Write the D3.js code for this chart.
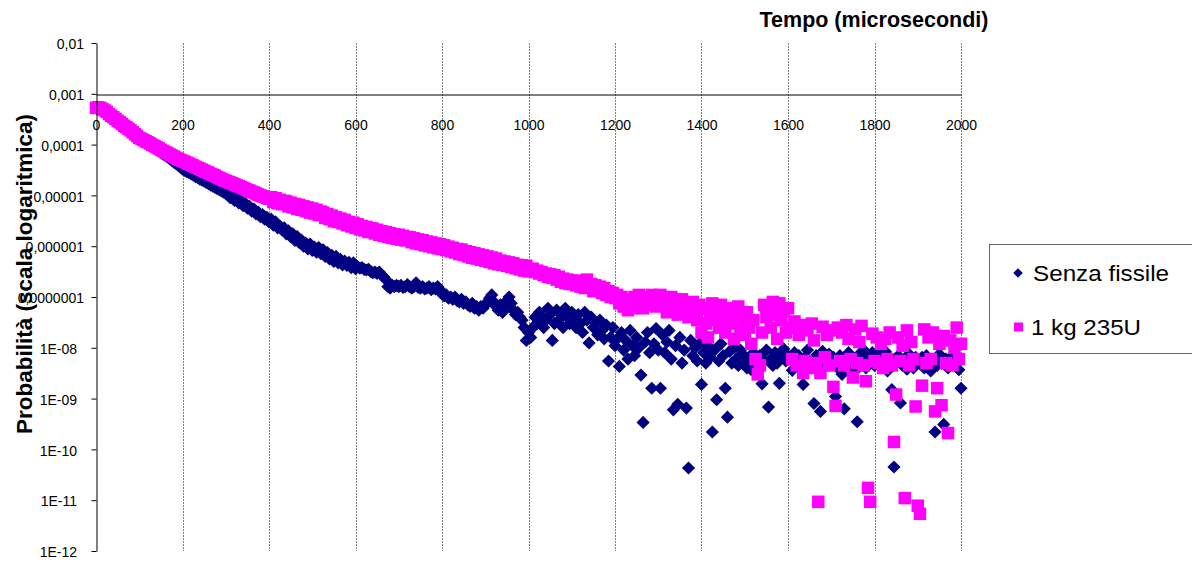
<!DOCTYPE html>
<html>
<head>
<meta charset="utf-8">
<script src="https://cdn.jsdelivr.net/npm/d3@7"></script>
<style>
  body { margin: 0; background: #fff; }
  svg { display: block; font-family: "Liberation Sans", Arial, sans-serif; }
</style>
</head>
<body>
<svg id="chart" width="1192" height="563"></svg>
<script>
// Sampling interval of both series, in microseconds (t = index * timeStep)
const timeStep = 5;

// Probability without fissile material, t = 0 … 2000 µs
const senzaFissile = [
  5.3e-4,
  5.4e-4, 5.3e-4, 5.0e-4, 4.7e-4, 4.4e-4, 4.0e-4, 3.7e-4, 3.45e-4, 3.2e-4, 2.95e-4, 2.75e-4, 2.55e-4, 2.35e-4, 2.2e-4, 2.05e-4, 1.9e-4, 1.75e-4, 1.6e-4, 1.48e-4, 1.36e-4,
  1.28e-4, 1.21e-4, 1.14e-4, 1.07e-4, 1.0e-4, 9.4e-5, 8.8e-5, 8.2e-5, 7.6e-5, 7.0e-5, 6.5e-5, 6.1e-5, 5.7e-5, 5.3e-5, 4.9e-5, 4.5e-5, 4.2e-5, 3.9e-5, 3.6e-5, 3.3e-5,
  3.1e-5, 2.95e-5, 2.8e-5, 2.65e-5, 2.5e-5, 2.35e-5, 2.25e-5, 2.1e-5, 2.0e-5, 1.9e-5, 1.8e-5, 1.7e-5, 1.6e-5, 1.52e-5, 1.44e-5, 1.36e-5, 1.3e-5, 1.22e-5, 1.16e-5, 1.1e-5,
  1.1e-5, 9.0e-6, 1.0e-5, 8.0e-6, 9.0e-6, 7.1e-6, 7.9e-6, 6.3e-6, 7.0e-6, 5.6e-6, 6.1e-6, 4.9e-6, 5.4e-6, 4.3e-6, 4.7e-6, 3.8e-6, 4.2e-6, 3.4e-6, 3.7e-6, 3.0e-6,
  3.4e-6, 2.6e-6, 3.0e-6, 2.3e-6, 2.5e-6, 2.1e-6, 2.3e-6, 1.75e-6, 2.0e-6, 1.55e-6, 1.75e-6, 1.3e-6, 1.55e-6, 1.18e-6, 1.32e-6, 1.0e-6, 1.15e-6, 8.8e-7, 1.1e-6, 8.3e-7,
  9.6e-7, 7.6e-7, 9.4e-7, 7.1e-7, 8.5e-7, 6.3e-7, 7.5e-7, 5.6e-7, 6.6e-7, 5.0e-7, 6.3e-7, 4.7e-7, 5.5e-7, 4.3e-7, 5.1e-7, 4.2e-7, 4.8e-7, 3.8e-7, 4.7e-7, 3.6e-7,
  3.9e-7, 3.7e-7, 3.8e-7, 3.5e-7, 3.4e-7, 3.5e-7, 3.2e-7, 3.0e-7, 3.1e-7, 2.9e-7, 3.1e-7, 2.7e-7, 2.5e-7, 2.2e-7, 1.6e-7, 1.5e-7, 1.7e-7, 1.6e-7, 1.7e-7, 1.6e-7,
  1.7e-7, 1.55e-7, 1.6e-7, 1.75e-7, 1.6e-7, 1.5e-7, 1.6e-7, 1.9e-7, 1.55e-7, 1.5e-7, 1.6e-7, 1.45e-7, 1.5e-7, 1.6e-7, 1.4e-7, 1.5e-7, 1.45e-7, 1.6e-7, 1.4e-7, 1.15e-7,
  1.05e-7, 1.1e-7, 9.5e-8, 1.0e-7, 9.0e-8, 1.0e-7, 8.5e-8, 8.0e-8, 9.0e-8, 7.5e-8, 8.0e-8, 7.0e-8, 6.5e-8, 7.5e-8, 6.0e-8, 6.5e-8, 5.5e-8, 6.5e-8, 6.0e-8, 7.0e-8,
  8.0e-8, 9.5e-8, 1.1e-7, 8.0e-8, 6.5e-8, 5.5e-8, 7.0e-8, 5.0e-8, 6.5e-8, 8.5e-8, 1.0e-7, 7.5e-8, 5.5e-8, 4.5e-8, 5.0e-8, 4.0e-8, 3.5e-8, 2.5e-8, 1.4e-8, 2.0e-8,
  1.6e-8, 2.5e-8, 4.0e-8, 3.0e-8, 5.0e-8, 4.0e-8, 2.5e-8, 3.5e-8, 6.0e-8, 4.5e-8, 1.4e-8, 3.0e-8, 5.5e-8, 3.5e-8, 4.5e-8, 2.5e-8, 6.0e-8, 4.0e-8, 3.0e-8, 5.0e-8,
  4.0e-8, 2.5e-8, 4.5e-8, 3.0e-8, 2.0e-8, 5.0e-8, 3.5e-8, 1.25e-8, 4.0e-8, 2.5e-8, 3.0e-8, 1.8e-8, 3.5e-8, 2.2e-8, 1.5e-8, 2.8e-8, 5.5e-9, 1.6e-8, 2.5e-8, 1.1e-8,
  1.5e-8, 4.3e-9, 2.0e-8, 9.0e-9, 1.4e-8, 6.0e-9, 2.2e-8, 1.1e-8, 7.0e-9, 1.6e-8, 1.0e-8, 2.9e-9, 3.4e-10, 1.3e-8, 2.0e-8, 8.0e-9, 1.6e-9, 1.2e-8, 2.4e-8, 9.0e-9,
  1.6e-9, 1.8e-8, 8.0e-9, 1.3e-8, 2.2e-8, 6.0e-9, 6.0e-10, 1.1e-8, 7.7e-10, 1.6e-8, 5.0e-9, 9.0e-9, 6.5e-10, 4.3e-11, 1.4e-8, 7.0e-9, 1.0e-8, 5.5e-9, 1.2e-8, 1.9e-9,
  8.0e-9, 5.0e-9, 1.1e-8, 6.5e-9, 2.2e-10, 9.0e-9, 9.5e-10, 5.5e-9, 1.2e-8, 7.0e-9, 1.6e-9, 4.3e-10, 8.5e-9, 5.0e-9, 1.0e-8, 6.0e-9, 4.5e-9, 9.0e-9, 7.5e-9, 5.5e-9,
  4.0e-9, 6.5e-9, 3.7e-9, 8.0e-9, 5.0e-9, 3.5e-9, 7.0e-9, 1.95e-9, 5.5e-9, 9.0e-9, 6.8e-10, 6.0e-9, 4.5e-9, 8.0e-9, 5.0e-9, 2.0e-9, 6.5e-9, 9.5e-9, 5.5e-9, 7.0e-9,
  6.0e-9, 3.6e-9, 8.0e-9, 5.0e-9, 7.0e-9, 4.5e-9, 1.9e-9, 6.5e-9, 9.0e-9, 5.5e-9, 4.0e-9, 8.0e-10, 7.0e-9, 5.0e-9, 5.6e-10, 8.5e-9, 6.0e-9, 4.5e-9, 7.5e-9, 5.0e-9,
  6.5e-9, 1.1e-9, 4.0e-9, 7.0e-9, 3.0e-9, 6.3e-10, 5.5e-9, 8.0e-9, 4.5e-9, 6.0e-9, 3.5e-9, 3.5e-10, 7.5e-9, 5.0e-9, 9.0e-9, 4.0e-9, 6.5e-9, 5.5e-9, 8.0e-9, 4.5e-9,
  6.0e-9, 7.5e-9, 4.0e-9, 5.5e-9, 8.5e-9, 3.5e-9, 6.5e-9, 1.5e-9, 4.5e-11, 5.0e-9, 7.0e-9, 8.2e-10, 4.5e-9, 6.0e-9, 3.8e-9, 7.5e-9, 5.0e-9, 4.0e-9, 6.5e-9, 5.5e-9,
  5.0e-9, 6.5e-9, 4.0e-9, 7.0e-9, 5.5e-9, 3.5e-9, 6.0e-9, 2.2e-10, 4.5e-9, 7.5e-9, 5.0e-9, 3.1e-10, 6.0e-9, 4.0e-9, 5.5e-9, 7.0e-9, 4.5e-9, 6.0e-9, 3.7e-9, 1.6e-9
];

// Probability with 1 kg of U-235, t = 0 … 2000 µs
const unKg235U = [
  5.3e-4,
  5.4e-4, 5.3e-4, 5.0e-4, 4.7e-4, 4.4e-4, 4.0e-4, 3.7e-4, 3.45e-4, 3.2e-4, 2.95e-4, 2.75e-4, 2.55e-4, 2.35e-4, 2.2e-4, 2.05e-4, 1.9e-4, 1.75e-4, 1.6e-4, 1.48e-4, 1.36e-4,
  1.29e-4, 1.23e-4, 1.16e-4, 1.11e-4, 1.05e-4, 9.9e-5, 9.4e-5, 8.9e-5, 8.4e-5, 7.9e-5, 7.5e-5, 7.1e-5, 6.8e-5, 6.4e-5, 6.1e-5, 5.8e-5, 5.5e-5, 5.2e-5, 5.0e-5, 4.8e-5,
  4.6e-5, 4.4e-5, 4.2e-5, 4.0e-5, 3.85e-5, 3.65e-5, 3.5e-5, 3.35e-5, 3.2e-5, 3.05e-5, 2.9e-5, 2.8e-5, 2.65e-5, 2.55e-5, 2.45e-5, 2.3e-5, 2.2e-5, 2.1e-5, 2.0e-5, 1.94e-5,
  1.86e-5, 1.8e-5, 1.72e-5, 1.65e-5, 1.58e-5, 1.52e-5, 1.46e-5, 1.4e-5, 1.34e-5, 1.28e-5, 1.24e-5, 1.18e-5, 1.14e-5, 1.09e-5, 1.04e-5, 1.0e-5, 9.6e-6, 9.3e-6, 8.9e-6, 8.6e-6,
  9.2e-6, 7.4e-6, 8.8e-6, 7.0e-6, 8.2e-6, 6.7e-6, 7.8e-6, 7.6e-6, 6.1e-6, 7.2e-6, 5.8e-6, 6.8e-6, 5.4e-6, 6.5e-6, 5.2e-6, 6.1e-6, 4.9e-6, 5.8e-6, 4.6e-6, 5.5e-6,
  4.4e-6, 5.2e-6, 4.1e-6, 4.8e-6, 4.6e-6, 3.6e-6, 4.3e-6, 3.4e-6, 4.0e-6, 3.1e-6, 3.7e-6, 3.0e-6, 3.5e-6, 2.8e-6, 3.3e-6, 2.6e-6, 3.0e-6, 2.45e-6, 2.9e-6, 2.3e-6,
  2.7e-6, 2.15e-6, 2.5e-6, 2.05e-6, 2.4e-6, 1.9e-6, 2.25e-6, 2.2e-6, 1.78e-6, 2.1e-6, 1.68e-6, 1.98e-6, 1.6e-6, 1.9e-6, 1.52e-6, 1.8e-6, 1.45e-6, 1.72e-6, 1.4e-6, 1.68e-6,
  1.35e-6, 1.6e-6, 1.3e-6, 1.52e-6, 1.5e-6, 1.2e-6, 1.43e-6, 1.14e-6, 1.36e-6, 1.1e-6, 1.31e-6, 1.04e-6, 1.24e-6, 1.0e-6, 1.19e-6, 9.5e-7, 1.13e-6, 9.1e-7, 1.09e-6, 8.8e-7,
  1.04e-6, 8.4e-7, 9.8e-7, 7.9e-7, 9.3e-7, 7.5e-7, 8.8e-7, 7.0e-7, 8.6e-7, 6.7e-7, 8.0e-7, 6.3e-7, 7.6e-7, 5.9e-7, 7.3e-7, 5.7e-7, 6.9e-7, 5.4e-7, 6.6e-7, 5.2e-7,
  6.3e-7, 4.9e-7, 6.0e-7, 4.6e-7, 5.7e-7, 4.4e-7, 5.2e-7, 4.3e-7, 5.0e-7, 4.1e-7, 4.8e-7, 3.9e-7, 4.6e-7, 3.7e-7, 4.3e-7, 3.5e-7, 4.2e-7, 3.3e-7, 4.1e-7, 3.2e-7,
  3.4e-7, 3.6e-7, 3.1e-7, 3.3e-7, 2.9e-7, 3.1e-7, 2.7e-7, 2.9e-7, 2.5e-7, 2.8e-7, 2.4e-7, 2.7e-7, 2.2e-7, 2.5e-7, 2.0e-7, 2.3e-7, 1.9e-7, 2.2e-7, 1.8e-7, 2.1e-7,
  2.0e-7, 1.7e-7, 2.1e-7, 1.6e-7, 1.9e-7, 1.5e-7, 2.2e-7, 1.6e-7, 1.8e-7, 1.3e-7, 1.7e-7, 1.4e-7, 1.6e-7, 1.2e-7, 1.5e-7, 1.1e-7, 1.3e-7, 1.0e-7, 1.2e-7, 9.5e-8,
  1.1e-7, 7.5e-8, 1.0e-7, 6.5e-8, 9.0e-8, 5.5e-8, 8.5e-8, 6.0e-8, 1.0e-7, 7.0e-8, 1.1e-7, 8.0e-8, 6.0e-8, 9.0e-8, 1.0e-7, 7.0e-8, 1.1e-7, 8.5e-8, 6.5e-8, 9.5e-8,
  1.1e-7, 7.0e-8, 9.0e-8, 5.0e-8, 8.0e-8, 1.0e-7, 6.0e-8, 8.5e-8, 4.5e-8, 7.0e-8, 9.0e-8, 5.5e-8, 7.5e-8, 4.0e-8, 6.5e-8, 8.0e-8, 5.0e-8, 3.5e-8, 7.0e-8, 2.0e-8,
  6.0e-8, 3.0e-8, 1.6e-8, 5.0e-8, 7.5e-8, 3.5e-8, 5.5e-8, 2.5e-8, 7.0e-8, 4.0e-8, 2.0e-8, 6.0e-8, 3.0e-8, 5.0e-8, 1.5e-8, 4.5e-8, 6.5e-8, 2.5e-8, 4.0e-8, 1.8e-8,
  5.0e-8, 2.5e-8, 1.2e-8, 3.5e-8, 6.0e-9, 3.0e-9, 4.5e-9, 2.0e-8, 7.0e-8, 4.0e-8, 6.5e-8, 2.5e-8, 8.0e-8, 4.5e-8, 1.5e-8, 7.5e-8, 3.5e-8, 5.5e-8, 2.0e-8, 6.0e-8,
  2.5e-8, 6.0e-9, 3.3e-8, 4.5e-9, 1.8e-8, 2.8e-8, 3.2e-9, 5.5e-9, 2.2e-8, 4.0e-9, 3.0e-8, 1.4e-8, 5.0e-9, 9.3e-12, 3.2e-9, 2.6e-8, 6.5e-9, 1.8e-8, 4.5e-9, 2.2e-8,
  1.7e-9, 7.2e-10, 2.5e-8, 5.5e-9, 2.0e-8, 4.5e-9, 2.8e-8, 1.5e-8, 6.0e-9, 2.6e-9, 2.3e-8, 5.0e-9, 1.3e-8, 2.7e-8, 4.5e-9, 2.2e-9, 1.75e-11, 9.3e-12, 1.9e-8, 5.5e-9,
  1.6e-8, 5.0e-9, 1.2e-8, 4.0e-9, 1.5e-8, 6.0e-9, 2.0e-8, 4.5e-9, 1.4e-10, 1.2e-9, 1.6e-8, 5.5e-9, 1.1e-8, 1.1e-11, 2.2e-8, 4.5e-9, 1.3e-8, 6.0e-9, 7.0e-10, 7.8e-12,
  5.4e-12, 1.8e-9, 2.3e-8, 5.0e-9, 1.6e-8, 6.0e-9, 2.0e-8, 5.6e-10, 1.6e-9, 1.2e-8, 7.4e-10, 1.7e-8, 5.0e-9, 2.1e-10, 1.4e-8, 4.5e-9, 1.0e-8, 2.5e-8, 6.0e-9, 1.2e-8
];

const seriesNames = ["Senza fissile", "1 kg 235U"];
const seriesColors = ["#000080", "#ff00ff"];

const xTickValues = [0, 200, 400, 600, 800, 1000, 1200, 1400, 1600, 1800, 2000];
const yTickValues = [1e-2, 1e-3, 1e-4, 1e-5, 1e-6, 1e-7, 1e-8, 1e-9, 1e-10, 1e-11, 1e-12];
const yTickLabels = ["0,01", "0,001", "0,0001", "0,00001", "0,000001", "0,0000001",
                     "1E-08", "1E-09", "1E-10", "1E-11", "1E-12"];

const xTitle = "Tempo (microsecondi)";
const yTitle = "Probabilità (scala logaritmica)";

const svg = d3.select("#chart");

const x = d3.scaleLinear().domain([0, 2000]).range([96, 961]);
const y = d3.scaleLog().domain([1e-12, 1e-2]).range([551, 43]);

// vertical dotted gridlines
svg.append("g")
  .selectAll("line")
  .data(xTickValues.filter(d => d > 0))
  .join("line")
  .attr("x1", d => Math.round(x(d)) + 0.5)
  .attr("x2", d => Math.round(x(d)) + 0.5)
  .attr("y1", y(1e-2))
  .attr("y2", y(1e-12))
  .attr("stroke", "#808080")
  .attr("stroke-width", 1)
  .attr("stroke-dasharray", "2,1");

// y axis (log scale)
const yAxis = svg.append("g")
  .attr("transform", "translate(96.5,0)")
  .call(d3.axisLeft(y)
    .tickValues(yTickValues)
    .tickFormat((d, i) => yTickLabels[i])
    .tickSize(5)
    .tickSizeOuter(0)
    .tickPadding(7));
yAxis.attr("font-family", null).attr("font-size", null);
yAxis.select(".domain").attr("stroke", "#000");
yAxis.selectAll(".tick line").attr("stroke", "#000");
yAxis.selectAll(".tick text")
  .attr("font-size", 14)
  .attr("fill", "#000")
  .attr("dy", "0.4em")
  .attr("x", (d, i) => yTickLabels[i].startsWith("1E") ? -19.5 : -12.5);

// x axis crossing at 0,001
const xAxis = svg.append("g")
  .attr("transform", `translate(0,${Math.round(y(1e-3)) + 0.5})`)
  .call(d3.axisBottom(x)
    .tickValues(xTickValues)
    .tickFormat(d3.format("d"))
    .tickSize(0)
    .tickSizeOuter(0)
    .tickPadding(26));
xAxis.attr("font-family", null).attr("font-size", null);
xAxis.select(".domain").attr("stroke", "#000");

// diamond marker path
const diamond = r => `M0,${-r}L${r},0L0,${r}L${-r},0Z`;

// series 1: diamonds
svg.append("g")
  .selectAll("path")
  .data(senzaFissile)
  .join("path")
  .attr("transform", (d, i) => `translate(${x(i * timeStep)},${y(d)})`)
  .attr("d", diamond(6.6))
  .attr("fill", seriesColors[0]);

// series 2: squares
const sq = 12.5;
svg.append("g")
  .selectAll("rect")
  .data(unKg235U)
  .join("rect")
  .attr("x", (d, i) => x(i * timeStep) - sq / 2)
  .attr("y", d => y(d) - sq / 2)
  .attr("width", sq)
  .attr("height", sq)
  .attr("fill", seriesColors[1]);

// tick labels sit on top of the markers
xAxis.raise();
xAxis.selectAll(".tick text").attr("font-size", 14).attr("fill", "#000");
yAxis.raise();

// axis titles
svg.append("text")
  .attr("x", 874)
  .attr("y", 27)
  .attr("text-anchor", "middle")
  .attr("font-size", 21.5)
  .attr("font-weight", "bold")
  .text(xTitle);

svg.append("text")
  .attr("transform", "translate(32,274) rotate(-90)")
  .attr("text-anchor", "middle")
  .attr("font-size", 22.5)
  .attr("font-weight", "bold")
  .text(yTitle);

// legend
const legend = svg.append("g");
legend.append("rect")
  .attr("x", 989.5).attr("y", 244.5)
  .attr("width", 260).attr("height", 109)
  .attr("fill", "#fff")
  .attr("stroke", "#666");

const legendRows = [273, 327];
const legendTextWidths = [136, 110];
legend.append("path")
  .attr("transform", `translate(1018,${legendRows[0]})`)
  .attr("d", diamond(4.8))
  .attr("fill", seriesColors[0]);
legend.append("rect")
  .attr("x", 1014).attr("y", legendRows[1] - 4.5)
  .attr("width", 9).attr("height", 9)
  .attr("fill", seriesColors[1]);
legend.selectAll("text.lab")
  .data(seriesNames)
  .join("text")
  .attr("class", "lab")
  .attr("x", (d, i) => i === 0 ? 1033 : 1031)
  .attr("y", (d, i) => legendRows[i] + 7.5)
  .attr("font-size", 22)
  .attr("textLength", (d, i) => legendTextWidths[i])
  .attr("lengthAdjust", "spacingAndGlyphs")
  .attr("fill", "#000")
  .text(d => d);
</script>
</body>
</html>
